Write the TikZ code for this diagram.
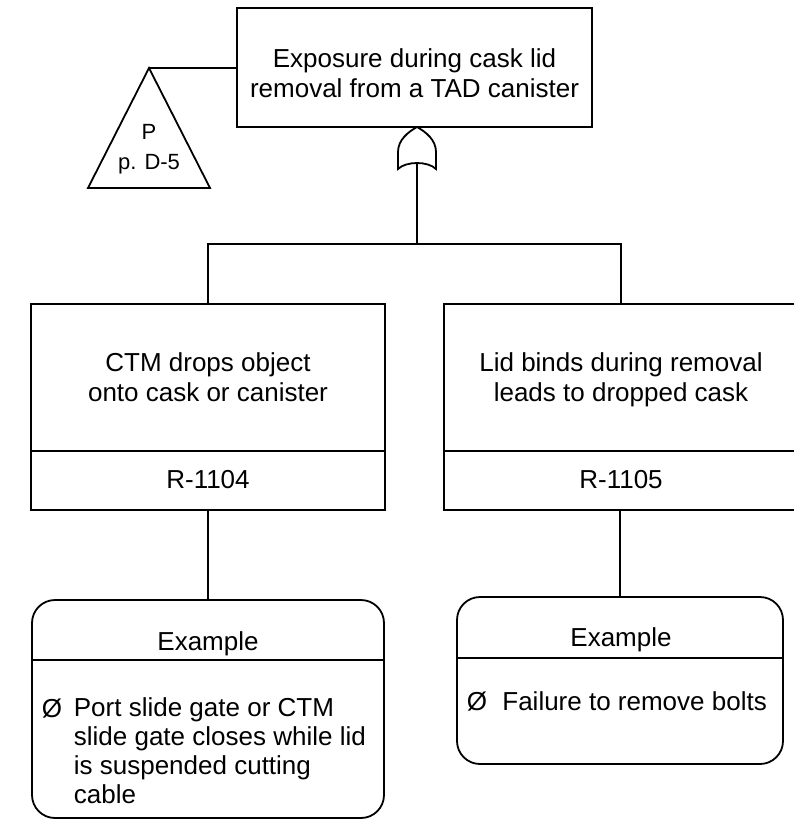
\documentclass[tikz,border=0pt]{standalone}
\usepackage{fontspec}
\setmainfont{Liberation Sans}
\begin{document}
\begin{tikzpicture}[x=1pt,y=-1pt,
  line width=1.8pt,
  boxstyle/.style={draw, rectangle, inner sep=0pt},
  roundbox/.style={draw, rectangle, rounded corners=23pt, inner sep=0pt},
  txt/.style={font=\fontsize{26}{30}\selectfont, inner sep=0pt, align=center},
  bodytxt/.style={font=\fontsize{26}{28.7}\selectfont, inner sep=0pt, align=left},
  smalltxt/.style={font=\fontsize{22}{30}\selectfont, inner sep=0pt, align=center}]
\useasboundingbox (0,0) rectangle (794,820);

% top event (multi-line texts are placed by the baseline of their last line)
\node[boxstyle, minimum width=355pt, minimum height=119pt] (top) at (414.5,67.5) {};
\node[txt, anchor=base] (toptxt) at (414.5,97) {Exposure during cask lid\\removal from a TAD canister};

% transfer triangle
\coordinate (tri) at (149,68);
\draw (tri) -- (88,188) -- (210,188) -- cycle;
\node[smalltxt, anchor=base] (tritxt) at (149,169) {P\\p. D-5};
\draw (tri) -- (top.west |- tri);

% OR gate
\coordinate (gtip) at (417,127);
\coordinate (gin) at (417,162);
\draw (398,169) -- (398,152) .. controls (398,140) and (408,132) .. (gtip)
      .. controls (426,132) and (436,140) .. (436,152) -- (436,169)
      .. controls (428,161) and (406,161) .. (398,169) -- cycle;

% intermediate events
\node[boxstyle, minimum width=354pt, minimum height=206pt] (e1) at (208,407) {};
\node[boxstyle, minimum width=354pt, minimum height=206pt] (e2) at (621,407) {};
\coordinate (d1) at (208,451);
\draw (e1.west |- d1) -- (e1.east |- d1);
\draw (e2.west |- d1) -- (e2.east |- d1);
\node[txt, anchor=base] (e1txt) at (208,401) {CTM drops object\\onto cask or canister};
\node[txt, anchor=base] (e1id) at (208,488) {R-1104};
\node[txt, anchor=base] (e2txt) at (621,401) {Lid binds during removal\\leads to dropped cask};
\node[txt, anchor=base] (e2id) at (621,488) {R-1105};

% gate to children
\coordinate (fork) at (417,244);
\draw (gin) -- (fork);
\draw (e1.north) |- (fork) -| (e2.north);

% example notes
\node[roundbox, minimum width=352pt, minimum height=218pt] (x1) at (208,709) {};
\node[roundbox, minimum width=326pt, minimum height=167pt] (x2) at (620,680.5) {};
\coordinate (d2) at (208,660);
\coordinate (d3) at (620,658);
\draw (x1.west |- d2) -- (x1.east |- d2);
\draw (x2.west |- d3) -- (x2.east |- d3);
\node[txt, anchor=base] (x1head) at (208,650.5) {Example};
\node[txt, anchor=base] (x2head) at (621,646) {Example};
\node[txt, anchor=base west] (x1bul) at (41,717) {Ø};
\node[bodytxt, anchor=base west] (x1txt) at (73,803) {Port slide gate or CTM\\slide gate closes while lid\\is suspended cutting\\cable};
\node[txt, anchor=base west] (x2bul) at (466,710) {Ø};
\node[bodytxt, anchor=base west] (x2txt) at (501.5,710) {Failure to remove bolts};

\draw (e1.south) -- (x1.north);
\draw (e2.south -| x2.north) -- (x2.north);
\end{tikzpicture}
\end{document}
